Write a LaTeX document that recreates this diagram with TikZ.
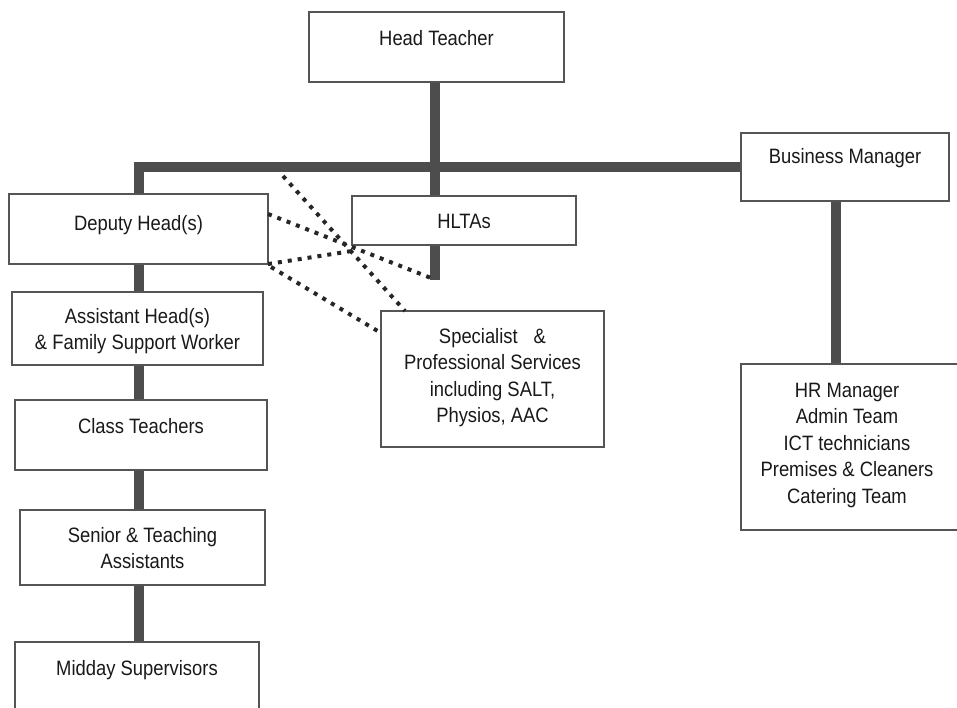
\documentclass[tikz,border=0pt]{standalone}
\usepackage{fontspec}
\usepackage{graphicx}
\setmainfont{Liberation Sans}
\definecolor{linegray}{HTML}{4D4D4D}
\definecolor{boxgray}{HTML}{555555}
\newcommand\stacklines[1]{\begin{tabular}[t]{@{}c@{}}#1\end{tabular}}
\newcommand\tallt[1]{\scalebox{1}[1.13]{#1}}
\begin{document}
\begin{tikzpicture}[x=1pt,y=-1pt,
  box/.style={draw=boxgray, line width=1.3pt, fill=white, inner sep=0pt, outer sep=0pt},
  lbl/.style={anchor=base, inner sep=0pt, font=\fontsize{18.4}{23.5}\selectfont, text=black!90},
  conn/.style={draw=linegray, line width=10pt},
  dots/.style={draw=black!85, line width=4pt, dash pattern=on 4pt off 6pt}]
\useasboundingbox (0,0) rectangle (957,707);
\clip (0,0) rectangle (957,707);
\fill[white] (0,0) rectangle (957,707);

% helper coordinates
\coordinate (lv) at (139,0);
\coordinate (htx) at (435,0);
\coordinate (htend) at (435,280);
\coordinate (bmx) at (836,0);
\coordinate (d1) at (283,176);

% boxes (geometry only, for connectors)
\path
  (436.5,47) node[box, minimum width=255, minimum height=70] (ht) {}
  (845,167) node[box, minimum width=208, minimum height=68] (bm) {}
  (138.5,229) node[box, minimum width=259, minimum height=70] (dep) {}
  (464,220.5) node[box, minimum width=224, minimum height=49] (hlta) {}
  (137.5,328.5) node[box, minimum width=251, minimum height=73] (asst) {}
  (141,435) node[box, minimum width=252, minimum height=70] (cls) {}
  (142.5,547.5) node[box, minimum width=245, minimum height=75] (sen) {}
  (137,681) node[box, minimum width=244, minimum height=78] (mid) {}
  (492.5,379) node[box, minimum width=223, minimum height=136] (spec) {}
  (850.5,447) node[box, minimum width=219, minimum height=166] (hr) {};

% thick connectors
\draw[conn] (ht.south -| htx) -- (htend);
\draw[conn] (bm.west) -- (bm.west -| lv) -- (lv |- mid.north);
\draw[conn] (bm.south -| bmx) -- (hr.north -| bmx);

% redraw boxes on top of connectors
\foreach \n in {ht,bm,dep,hlta,asst,cls,sen,mid,spec,hr}{
  \draw[box, fill=white] (\n.north west) rectangle (\n.south east);
}

% labels
\node[lbl] (htT) at (436.5,45) {\tallt{Head Teacher}};
\node[lbl] (bmT) at (845,163) {\tallt{Business Manager}};
\node[lbl] (depT) at (138.5,230) {\tallt{Deputy Head(s)}};
\node[lbl] (hltaT) at (464,228) {\tallt{HLTAs}};
\node[lbl] (asstT) at (137.5,323) {\tallt{\stacklines{Assistant Head(s)\\ \& Family Support Worker}}};
\node[lbl] (clsT) at (141,433) {\tallt{Class Teachers}};
\node[lbl] (senT) at (142.5,542) {\tallt{\stacklines{Senior \& Teaching\\Assistants}}};
\node[lbl] (midT) at (137,675) {\tallt{Midday Supervisors}};
\node[lbl] (specT) at (492.5,343) {\tallt{\stacklines{Specialist\hspace{16pt}\&\\Professional Services\\including SALT,\\Physios, AAC}}};
\node[lbl] (hrT) at (847,397) {\tallt{\stacklines{HR Manager\\Admin Team\\ICT technicians\\Premises \& Cleaners\\Catering Team}}};

% dotted links
\draw[dots] (d1) -- ([xshift=24pt]spec.north west);
\draw[dots] ([yshift=15pt]dep.east) -- ([xshift=-4pt,yshift=2pt]htend);
\draw[dots] (dep.south east) -- ([yshift=-6pt]hlta.south west);
\draw[dots] ([xshift=3pt,yshift=-3pt]dep.south east) -- ([yshift=46pt]spec.west);
\end{tikzpicture}
\end{document}
